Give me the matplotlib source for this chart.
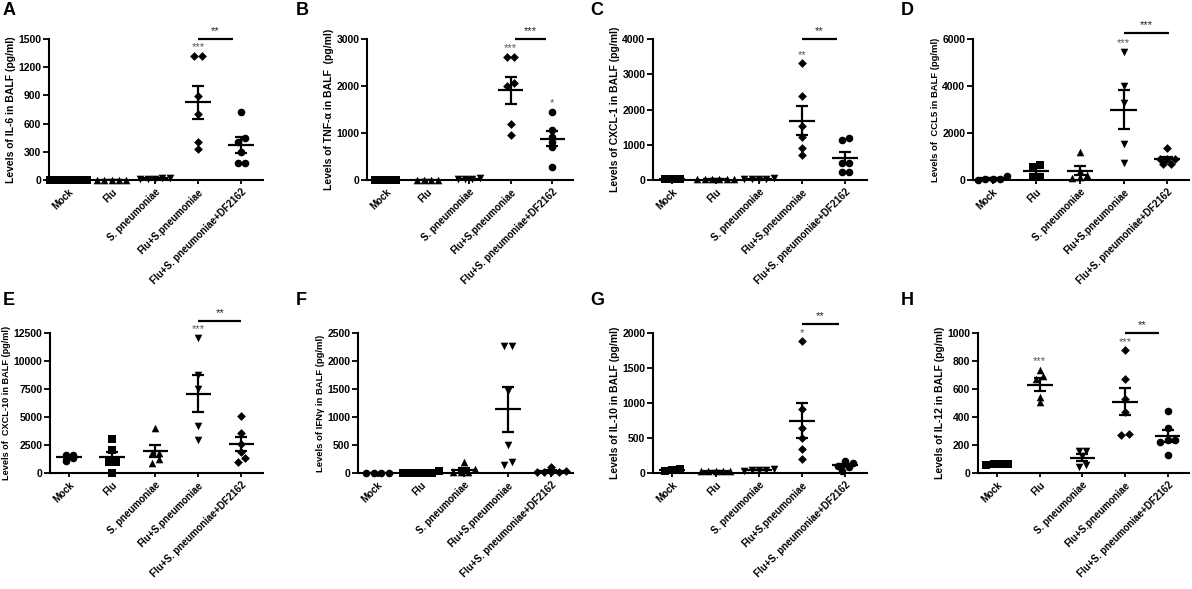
import numpy as np
import matplotlib
matplotlib.use("Agg")
import matplotlib.pyplot as plt

plt.rcParams['font.family'] = ['Liberation Sans', 'DejaVu Sans']
plt.rcParams['font.weight'] = 'bold'

groups = ["Mock", "Flu", "S. pneumoniae", "Flu+S.pneumoniae",
          "Flu+S. pneumoniae+DF2162"]

# values (pg/ml), one list per group
il6 = [[0, 0, 0, 0, 0, 0],
       [0, 0, 0, 0, 0],
       [15, 20, 15, 20, 15],
       [1319, 1319, 894, 699, 408, 330],
       [727, 450, 401, 301, 177, 177]]
tnfa = [[0, 0, 0, 10],
        [0, 0, 0, 0],
        [20, 20, 25, 50],
        [2624, 2624, 2000, 2057, 1184, 957],
        [1454, 1064, 922, 816, 709, 284]]
cxcl1 = [[40, 30, 30],
         [15, 15, 15, 15, 15, 15],
         [40, 35, 40, 35, 45],
         [3310, 2383, 1541, 1229, 917, 709],
         [1135, 1200, 473, 473, 236, 236]]
ccl5 = [[50, 30, 20, 60, 180],
        [640, 560, 140, 140],
        [1205, 213, 400, 113, 80],
        [5459, 3999, 3261, 1531, 737],
        [1347, 880, 880, 880, 666, 666]]
cxcl10 = [[1650, 1050, 1300, 1650],
          [3000, 2050, 980, 980, 0],
          [4000, 1800, 1750, 1250, 850],
          [12085, 8738, 7464, 4206, 2962],
          [5100, 3550, 2600, 1850, 1000, 1300]]
ifng = [[0, 0, 0, 0],
        [40, 5, 5, 5, 5, 5],
        [190, 10, 10, 10, 70],
        [2260, 2260, 1460, 500, 150, 190],
        [100, 20, 10, 10, 20, 30]]
il10 = [[62, 30, 47],
        [25, 25, 25, 25, 25],
        [60, 40, 40, 50, 35],
        [1881, 910, 645, 493, 341, 199],
        [175, 150, 140, 95, 90, 25]]
il12 = [[65, 55, 65, 65],
        [739, 694, 668, 545, 510],
        [160, 160, 120, 40, 60],
        [877, 668, 529, 436, 277, 273],
        [443, 320, 235, 235, 225, 126]]

marks1 = ['s', '^', 'v', 'D', 'o']
marks2 = ['o', 's', '^', 'v', 'D']

# letter, data, ylabel, y max, y step, markers, gray stars, bar, label size
panels = [
    ("A", il6, "Levels of IL-6 in BALF (pg/ml)", 1500, 300, marks1,
     [(3, "***")], (3.0, 3.8, 1.0, "**"), 7.5),
    ("B", tnfa, "Levels of TNF-\u03b1 in BALF  (pg/ml)", 3000, 1000, marks1,
     [(3, "***"), (4, "*")], (3.1, 3.85, 1.0, "***"), 7.5),
    ("C", cxcl1, "Levels of CXCL-1 in BALF (pg/ml)", 4000, 1000, marks1,
     [(3, "**")], (3.0, 3.8, 1.0, "**"), 7.5),
    ("D", ccl5, "Levels of  CCL5 in BALF (pg/ml)", 6000, 2000, marks2,
     [(3, "***")], (3.0, 4.05, 1.04, "***"), 6.8),
    ("E", cxcl10, "Levels of  CXCL-10 in BALF (pg/ml)", 12500, 2500, marks2,
     [(3, "***")], (3.0, 4.0, 1.085, "**"), 6.6),
    ("F", ifng, "Levels of IFN\u03b3 in BALF (pg/ml)", 2500, 500, marks2,
     [], None, 6.8),
    ("G", il10, "Levels of IL-10 in BALF (pg/ml)", 2000, 500, marks1,
     [(3, "*")], (3.0, 3.85, 1.065, "**"), 7.5),
    ("H", il12, "Levels of IL-12 in BALF (pg/ml)", 1000, 200, marks1,
     [(1, "***"), (3, "***")], (3.0, 3.8, 1.0, "**"), 7.5),
]

W, H = 1192, 589
boxes = [(49, 263, 39, 180), (367, 573, 39, 180), (653, 867, 39, 180),
         (973, 1189, 39, 180), (50, 263, 333, 473), (358, 573, 333, 473),
         (653, 867, 333, 473), (978, 1189, 333, 473)]
letter_pos = [(3, 2), (296, 2), (590, 2), (901, 2),
              (3, 292), (296, 292), (590, 292), (901, 292)]


def spread(vals, top, step=0.17):
    # GraphPad-like side-by-side placement of points with near-equal values
    vals = np.asarray(vals, float)
    order = np.argsort(vals, kind="stable")
    offs = np.zeros(len(vals))
    thr = 0.035 * top
    clusters = []
    cur = [order[0]]
    for i in order[1:]:
        if vals[i] - vals[cur[0]] < thr:
            cur.append(i)
        else:
            clusters.append(cur)
            cur = [i]
    clusters.append(cur)
    for c in clusters:
        n = len(c)
        for k, i in enumerate(c):
            offs[i] = (k - (n - 1) / 2) * step
    return offs


fig = plt.figure(figsize=(W / 100, H / 100), dpi=100)

for (letter, data, ylab, top, step, marks, stars, bar, lfs), box, lp in zip(
        panels, boxes, letter_pos):
    x0, x1, yt, yb = box
    ax = fig.add_axes([x0 / W, 1 - yb / H, (x1 - x0) / W, (yb - yt) / H])
    for g, vals in enumerate(data):
        vals = np.asarray(vals, float)
        offs = spread(vals, top)
        s = 20 if marks[g] == 'D' else 30
        ax.scatter(g + offs, vals, marker=marks[g], s=s, color='black',
                   linewidths=0, clip_on=False, zorder=3)
        m = vals.mean()
        sem = vals.std(ddof=1) / np.sqrt(len(vals))
        ax.hlines(m, g - 0.3, g + 0.3, color='black', lw=1.6, zorder=4)
        ax.errorbar(g, m, yerr=sem, fmt='none', ecolor='black', elinewidth=1.6,
                    capsize=4.5, capthick=1.6, zorder=4)
        for sg, txt in stars:
            if sg == g:
                ax.text(g, vals.max() + 0.06 * top, txt, ha='center',
                        va='center', fontsize=8, color='#555555',
                        fontweight='normal')
    if bar is not None:
        bx0, bx1, byf, btxt = bar
        ax.plot([bx0, bx1], [byf * top, byf * top], color='black', lw=1.6,
                clip_on=False, solid_capstyle='butt')
        ax.text((bx0 + bx1) / 2, byf * top + 0.02 * top, btxt, ha='center',
                va='bottom', fontsize=8, color='#222222', fontweight='normal')

    ax.set_xlim(-0.45, 4.5)
    ax.set_ylim(0, top)
    ax.set_yticks(np.arange(0, top + 1, step))
    ax.set_xticks(range(len(groups)))
    ax.set_xticklabels(groups, rotation=45, ha='right', rotation_mode='anchor',
                       fontsize=7, fontweight='bold')
    ax.tick_params(axis='y', labelsize=7.5, width=1.3, length=4, pad=1.5)
    ax.tick_params(axis='x', width=1.3, length=3, pad=2)
    for lab in ax.get_yticklabels():
        lab.set_fontweight('bold')
    for side in ['top', 'right']:
        ax.spines[side].set_visible(False)
    for side in ['left', 'bottom']:
        ax.spines[side].set_linewidth(1.5)
    ax.set_ylabel(ylab, fontsize=lfs, fontweight='bold', labelpad=2)
    fig.text(lp[0] / W, 1 - lp[1] / H, letter, fontsize=13, fontweight='bold',
             ha='left', va='top')

fig.savefig("out.png", dpi=100)
